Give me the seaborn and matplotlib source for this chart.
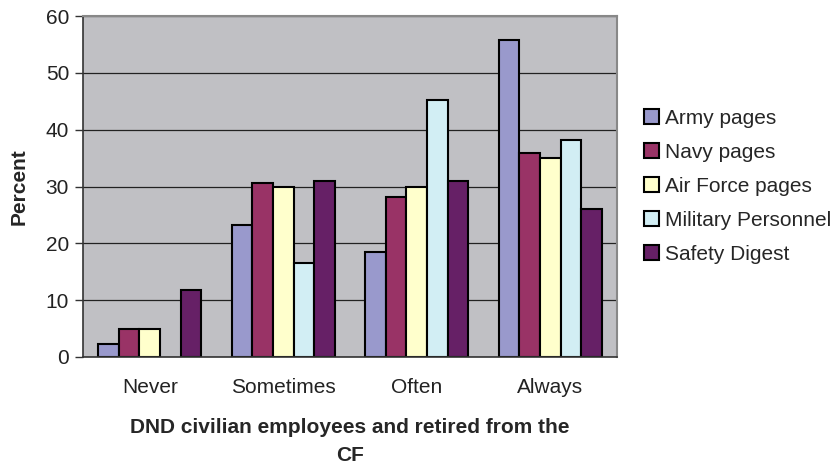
import numpy as np
import pandas as pd
import matplotlib
matplotlib.use("Agg")
import matplotlib.pyplot as plt
import seaborn as sns

categories = ["Never", "Sometimes", "Often", "Always"]
series = ["Army pages", "Navy pages", "Air Force pages", "Military Personnel", "Safety Digest"]
army = [2.3, 23.2, 18.4, 55.8]
navy = [5.0, 30.7, 28.2, 35.9]
air_force = [5.0, 30.0, 30.0, 35.0]
military = [np.nan, 16.6, 45.2, 38.1]
safety = [11.8, 31.0, 31.0, 26.1]
colors = ["#9999CC", "#993366", "#FFFFCC", "#D2EEF4", "#662066"]

rows = []
for name, vals in zip(series, [army, navy, air_force, military, safety]):
    for cat, v in zip(categories, vals):
        rows.append({"cat": cat, "series": name, "value": v})
df = pd.DataFrame(rows)

sns.set_style("white")
plt.rcParams["font.family"] = ["Liberation Sans", "DejaVu Sans"]
FS = 15

fig = plt.figure(figsize=(8.37, 4.66), dpi=100)
W, H = 837, 466
ax = fig.add_axes([83 / W, (H - 357) / H, (617 - 83) / W, (357 - 16) / H])
ax.set_facecolor("#C0C0C4")

sns.barplot(data=df, x="cat", y="value", hue="series", hue_order=series,
            order=categories, palette=colors, width=0.77, ax=ax,
            edgecolor="black", linewidth=1.5, errorbar=None, saturation=1)

ax.set_ylim(0, 60)
ax.set_yticks(range(0, 61, 10))
ax.set_xlim(-0.5, 3.5)
ax.yaxis.grid(True, color="#222222", linewidth=0.9)
ax.set_axisbelow(True)

ax.set_xticks(np.arange(-0.5, 3.6, 1.0), minor=False)
ax.set_xticklabels([""] * 5)
ax.set_xticks(range(4), minor=True)
ax.set_xticklabels(categories, minor=True)
ax.tick_params(axis="x", which="major", length=6, width=1, color="#333333", direction="out")
ax.tick_params(axis="x", which="minor", length=0, labelsize=FS, pad=15, labelcolor="#222222")
ax.tick_params(axis="y", length=6, width=1, color="#333333", direction="out",
               labelsize=FS, labelcolor="#222222", left=True, pad=4)

for side in ["left", "bottom"]:
    ax.spines[side].set_color("#333333")
    ax.spines[side].set_linewidth(1.2)
for side in ["top", "right"]:
    ax.spines[side].set_color("#888888")
    ax.spines[side].set_linewidth(1.5)

ax.set_ylabel("Percent", fontsize=FS, fontweight="bold", labelpad=12)
ax.set_xlabel("DND civilian employees and retired from the\nCF", fontsize=FS,
              fontweight="bold", labelpad=15, linespacing=1.6)

leg = ax.legend(loc="center left", bbox_to_anchor=(1.035, 0.5), frameon=False,
                fontsize=FS, handlelength=0.7, handleheight=0.7,
                handletextpad=0.3, labelspacing=0.72, borderaxespad=0)
for h in leg.legend_handles:
    h.set_edgecolor("black")
    h.set_linewidth(1.5)

fig.savefig("out.png", dpi=100)
